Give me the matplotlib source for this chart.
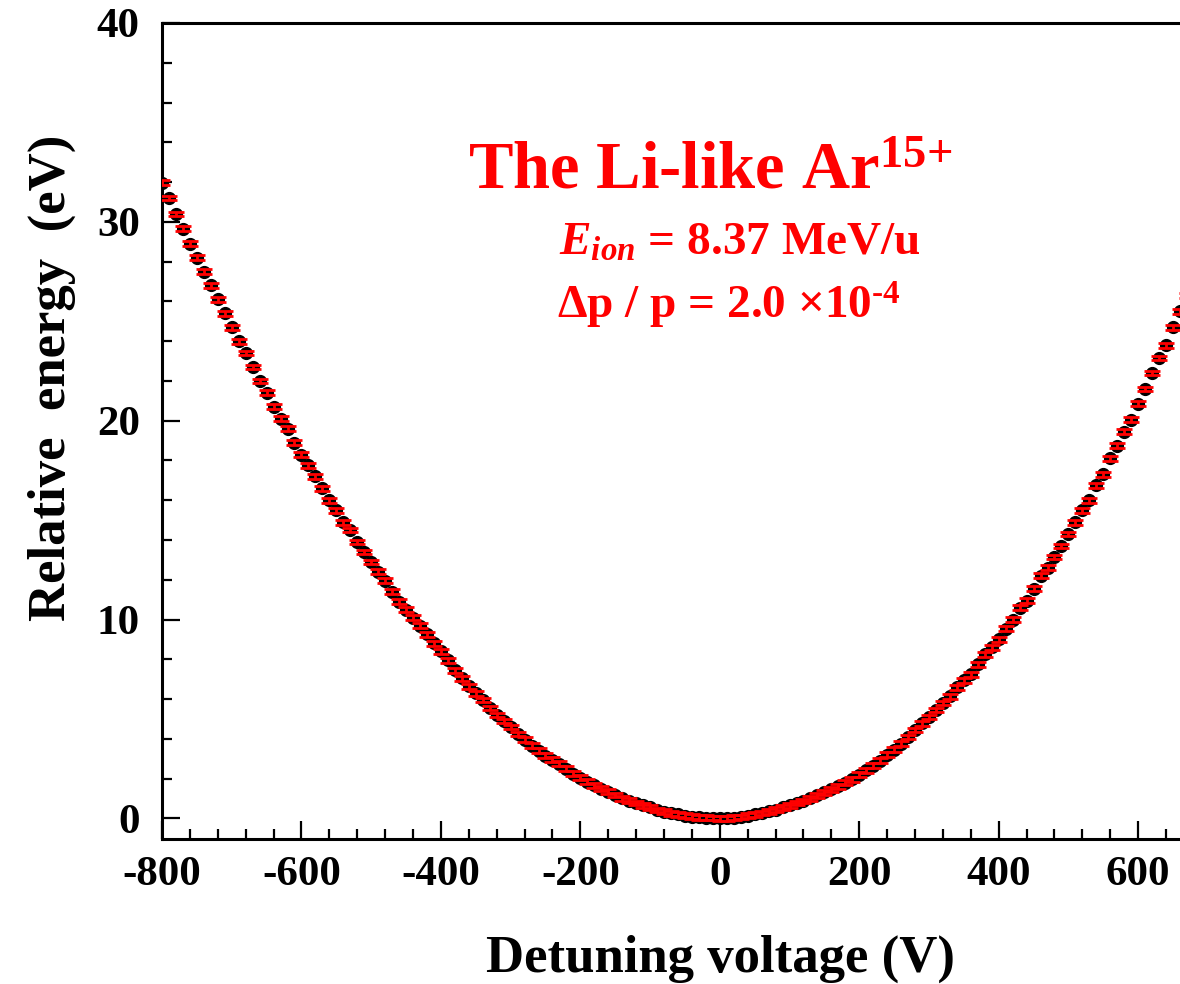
import numpy as np
import matplotlib
matplotlib.use("Agg")
import matplotlib.pyplot as plt
from matplotlib.ticker import MultipleLocator

plt.rcParams['font.family'] = ['Liberation Serif', 'DejaVu Serif']
plt.rcParams['font.weight'] = 'bold'
plt.rcParams['axes.unicode_minus'] = False
plt.rcParams['mathtext.fontset'] = 'custom'
plt.rcParams['mathtext.rm'] = 'Liberation Serif:bold'
plt.rcParams['mathtext.bf'] = 'Liberation Serif:bold'
plt.rcParams['mathtext.it'] = 'Liberation Serif:italic:bold'

# detuning voltage steps (V)
voltage = np.arange(-800, 671, 10)

# relative energy (eV) at each step
energy = [
    31.97, 31.20, 30.40, 29.65, 28.90, 28.20, 27.50, 26.80, 26.10, 25.40,
    24.70, 24.00, 23.40, 22.70, 22.00, 21.40, 20.70, 20.10, 19.60, 18.90,
    18.30, 17.75, 17.20, 16.60, 16.00, 15.50, 14.90, 14.50, 13.90, 13.40,
    12.90, 12.40, 11.95, 11.40, 10.90, 10.50, 10.10, 9.70, 9.25, 8.80,
    8.40, 7.95, 7.45, 7.05, 6.65, 6.30, 5.95, 5.55, 5.20, 4.90,
    4.60, 4.25, 3.95, 3.65, 3.40, 3.15, 2.95, 2.75, 2.50, 2.25,
    2.05, 1.85, 1.67, 1.50, 1.35, 1.18, 1.02, 0.90, 0.77, 0.65,
    0.55, 0.42, 0.33, 0.26, 0.20, 0.14, 0.09, 0.06, 0.03, 0.02,
    0.00, 0.01, 0.03, 0.07, 0.13, 0.20, 0.27, 0.35, 0.44, 0.55,
    0.65, 0.77, 0.88, 1.02, 1.17, 1.32, 1.47, 1.62, 1.80, 1.97,
    2.20, 2.42, 2.65, 2.90, 3.20, 3.45, 3.75, 4.10, 4.45, 4.78,
    5.10, 5.45, 5.80, 6.15, 6.60, 6.95, 7.25, 7.75, 8.25, 8.60,
    9.00, 9.55, 10.00, 10.60, 10.95, 11.55, 12.20, 12.60, 13.15, 13.70,
    14.30, 14.90, 15.50, 16.00, 16.75, 17.30, 18.10, 18.75, 19.45, 20.05,
    20.85, 21.60, 22.40, 23.15, 23.80, 24.70, 25.50, 26.30,
]
energy_err = 0.12

fig = plt.figure(figsize=(11.8, 9.84), dpi=100)
ax = fig.add_axes([162 / 1180, 1 - 839.3 / 984, 1 - 162 / 1180, (839.3 - 23) / 984])

ax.plot(voltage, energy, 'o', color='black', markersize=8.5, zorder=2)
ax.errorbar(voltage, energy, yerr=energy_err, fmt='none', ecolor='red',
            elinewidth=2.0, capsize=5.5, capthick=2.0, zorder=3)

ax.set_xlim(-800, 660)
ax.set_ylim(-1.05, 40)

ax.xaxis.set_major_locator(MultipleLocator(200))
ax.xaxis.set_minor_locator(MultipleLocator(40))
ax.yaxis.set_major_locator(MultipleLocator(10))
ax.yaxis.set_minor_locator(MultipleLocator(2))
ax.tick_params(which='both', direction='in', width=1.6, labelsize=31,
               top=False, right=False)
ax.tick_params(which='major', length=13)
ax.tick_params(which='minor', length=7)
ax.tick_params(axis='x', which='major', pad=12)
ax.tick_params(axis='y', which='major', pad=16)
for lab in ax.get_xticklabels() + ax.get_yticklabels():
    lab.set_fontweight('bold')

ax.spines['right'].set_visible(False)
for s in ['left', 'bottom', 'top']:
    ax.spines[s].set_linewidth(2.2)

fig.text(721 / 1180, 1 - 972 / 984, 'Detuning voltage (V)', fontsize=38,
         fontweight='bold', ha='center', va='baseline')
fig.text(52 / 1180, 1 - 378 / 984, 'Relative  energy  (eV)', fontsize=38,
         fontweight='bold', ha='center', va='center', rotation=90)

# annotation block
ax.text(0.538, 0.797, r'The Li-like Ar$^{\text{15+}}$', transform=ax.transAxes,
        fontsize=48, color='red', fontweight='bold', ha='center', va='baseline')
ax.text(0.568, 0.716, r'$E_{ion}$ = 8.37 MeV/u', transform=ax.transAxes,
        fontsize=34, color='red', fontweight='bold', ha='center', va='baseline')
ax.text(0.557, 0.638, r'Δp / p = 2.0 ×10$^{\text{-4}}$', transform=ax.transAxes,
        fontsize=34, color='red', fontweight='bold', ha='center', va='baseline')

fig.savefig('out.png', dpi=100)
